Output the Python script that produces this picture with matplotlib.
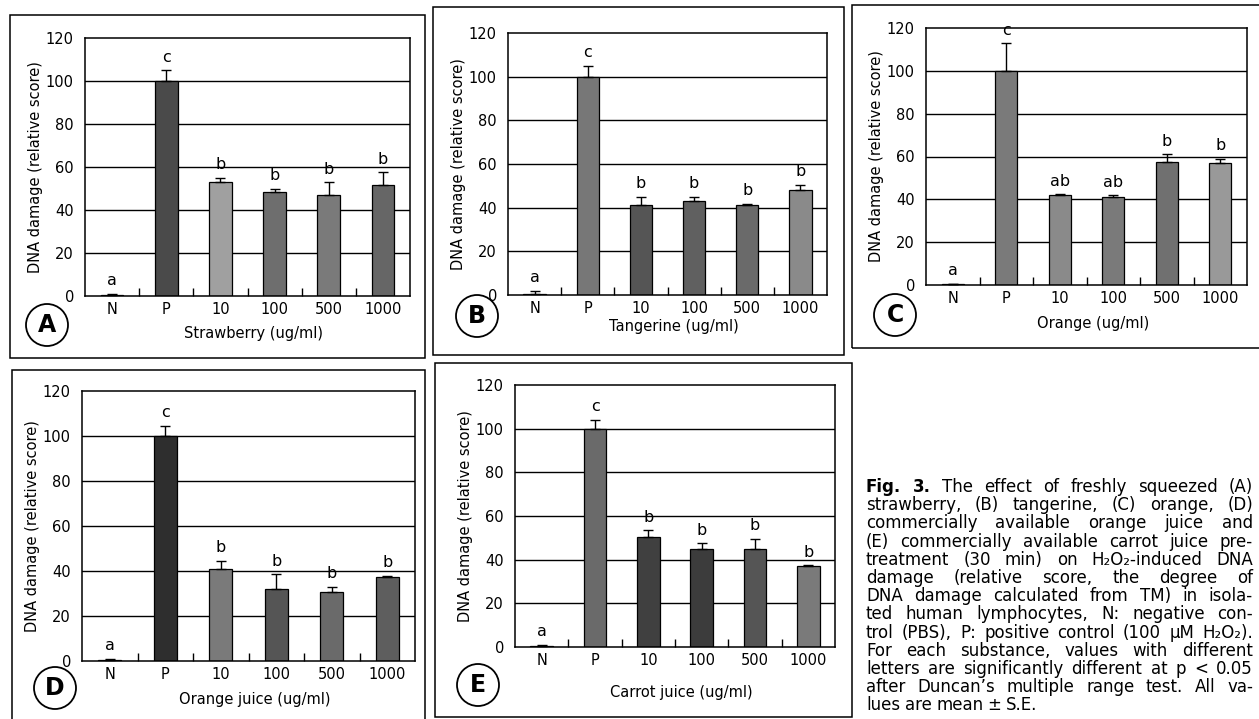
import numpy as np
import matplotlib
matplotlib.use("Agg")
import matplotlib.pyplot as plt
from matplotlib.patches import Rectangle, Ellipse

plt.rcParams['font.family'] = ['DejaVu Sans']

# treatment groups shared by all five panels
groups = ['N', 'P', '10', '100', '500', '1000']

# DNA damage (relative score), mean and S.E.
strawberry = [0.5, 100, 53, 48.5, 47, 51.5]
strawberry_se = [0.5, 5, 2, 1.5, 6, 6]
strawberry_sig = ['a', 'c', 'b', 'b', 'b', 'b']

tangerine = [0.5, 100, 41, 43, 41, 48]
tangerine_se = [1.5, 5, 4, 2, 0.7, 2.5]
tangerine_sig = ['a', 'c', 'b', 'b', 'b', 'b']

orange = [0.3, 100, 42, 41, 57.5, 57]
orange_se = [0.3, 13, 0.3, 1, 3.5, 2]
orange_sig = ['a', 'c', 'ab', 'ab', 'b', 'b']

orange_juice = [0.5, 100, 41, 32, 30.5, 37.5]
orange_juice_se = [0.5, 4.5, 3.5, 6.5, 2.5, 0.5]
orange_juice_sig = ['a', 'c', 'b', 'b', 'b', 'b']

carrot = [0.5, 100, 50.5, 45, 45, 37]
carrot_se = [0.5, 4, 3, 2.5, 4.5, 0.5]
carrot_sig = ['a', 'c', 'b', 'b', 'b', 'b']

caption = [
    "Fig. 3. The effect of freshly squeezed (A)",
    "strawberry, (B) tangerine, (C) orange, (D)",
    "commercially available orange juice and",
    "(E) commercially available carrot juice pre-",
    "treatment (30 min) on H\u2082O\u2082-induced DNA",
    "damage (relative score, the degree of",
    "DNA damage calculated from TM) in isola-",
    "ted human lymphocytes, N: negative con-",
    "trol (PBS), P: positive control (100 \u03bcM H\u2082O\u2082).",
    "For each substance, values with different",
    "letters are significantly different at p < 0.05",
    "after Duncan\u2019s multiple range test. All va-",
    "lues are mean \u00b1 S.E.",
]

W, H = 1259, 719
fig = plt.figure(figsize=(W / 100, H / 100), dpi=100)
fig.patch.set_facecolor('white')


def fx(x):
    return x / W


def fy(y):
    return 1 - y / H


# panel layout in pixels: outer box, axes box, label offsets, circle centre
panels = [
    dict(letter='A', title='Strawberry (ug/ml)', vals=strawberry, se=strawberry_se,
         sig=strawberry_sig, box=(10, 15, 425, 358), ax=(85, 38, 410, 296),
         xlab=30, circ=(47, 325),
         colors=['#555555', '#4a4a4a', '#a0a0a0', '#6e6e6e', '#7a7a7a', '#666666']),
    dict(letter='B', title='Tangerine (ug/ml)', vals=tangerine, se=tangerine_se,
         sig=tangerine_sig, box=(433, 7, 844, 355), ax=(508, 33, 827, 295),
         xlab=24, circ=(477, 316),
         colors=['#555555', '#777777', '#555555', '#606060', '#6a6a6a', '#8a8a8a']),
    dict(letter='C', title='Orange (ug/ml)', vals=orange, se=orange_se,
         sig=orange_sig, box=(852, 5, 1262, 348), ax=(926, 28, 1247, 285),
         xlab=31, circ=(895, 315),
         colors=['#555555', '#7a7a7a', '#8a8a8a', '#7a7a7a', '#707070', '#999999']),
    dict(letter='D', title='Orange juice (ug/ml)', vals=orange_juice, se=orange_juice_se,
         sig=orange_juice_sig, box=(12, 370, 425, 722), ax=(82, 391, 415, 661),
         xlab=31, circ=(55, 688),
         colors=['#555555', '#2e2e2e', '#7a7a7a', '#555555', '#6a6a6a', '#5e5e5e']),
    dict(letter='E', title='Carrot juice (ug/ml)', vals=carrot, se=carrot_se,
         sig=carrot_sig, box=(435, 363, 852, 717), ax=(515, 385, 835, 647),
         xlab=38, circ=(478, 685),
         colors=['#555555', '#6a6a6a', '#404040', '#3c3c3c', '#555555', '#7a7a7a']),
]

x = np.arange(len(groups))

for p in panels:
    # frame around the panel
    bx0, by0, bx1, by1 = p['box']
    fig.add_artist(Rectangle((fx(bx0), fy(by1)), fx(bx1 - bx0), (by1 - by0) / H,
                             transform=fig.transFigure, fill=False,
                             ec='black', lw=1.1))

    l, t, r, b = p['ax']
    ax = fig.add_axes([fx(l), fy(b), fx(r - l), (b - t) / H])
    ax.set_xlim(-0.5, len(groups) - 0.5)
    ax.set_ylim(0, 120)
    ax.set_yticks(np.arange(0, 121, 20))
    for yv in range(20, 120, 20):
        ax.axhline(yv, color='black', lw=1.0, zorder=1)

    ax.bar(x, p['vals'], width=0.42, color=p['colors'], edgecolor='black',
           linewidth=0.9, zorder=2)
    ax.errorbar(x, p['vals'], yerr=[np.zeros(len(x)), p['se']], fmt='none',
                ecolor='black', elinewidth=1.0, capsize=3.5, capthick=1.0, zorder=3)
    for xi, v, e, s in zip(x, p['vals'], p['se'], p['sig']):
        ax.text(xi, v + e + 2.5, s, ha='center', va='bottom', fontsize=11.5)

    ax.set_xticks(x)
    ax.set_xticklabels(groups, fontsize=10.5)
    ax.set_xticks(np.arange(0.5, len(groups) - 1, 1), minor=True)
    ax.tick_params(axis='x', which='major', length=0, pad=4)
    ax.tick_params(axis='x', which='minor', direction='in', length=6, width=1.0)
    ax.tick_params(axis='y', length=0, pad=8, labelsize=10.5)
    for sp in ax.spines.values():
        sp.set_linewidth(1.1)

    ax.set_ylabel('DNA damage (relative score)', fontsize=10.5)
    ax.yaxis.set_label_coords(-42 / (r - l), 0.5)
    ax.set_xlabel(p['title'], fontsize=10.5)
    ax.xaxis.set_label_coords(0.52, -p['xlab'] / (b - t))

    # circled panel letter
    cx, cy = p['circ']
    rad = 21
    fig.add_artist(Ellipse((fx(cx), fy(cy)), 2 * rad / W, 2 * rad / H,
                           transform=fig.transFigure, fill=False, ec='black', lw=1.3))
    fig.text(fx(cx), fy(cy), p['letter'], ha='center', va='center',
             fontsize=17, fontweight='bold')

# figure caption, justified word by word inside the right column
cap_x, cap_right, cap_y, step = 866, 1253, 487, 18.2
renderer = fig.canvas.get_renderer()
for i, line in enumerate(caption):
    words = line.split()
    ypos = fy(cap_y + i * step)
    items = []
    for j, w in enumerate(words):
        bold = (i == 0 and j < 2)
        t = fig.text(0, ypos, w, ha='left', va='center', fontsize=12,
                     fontweight='bold' if bold else 'normal')
        items.append((t, t.get_window_extent(renderer).width))
    total = sum(wd for _, wd in items)
    natural = 4.5
    if i < len(caption) - 1 and len(items) > 1:
        gap = max(natural, (cap_right - cap_x - total) / (len(items) - 1))
    else:
        gap = natural
    xpos = cap_x
    for t, wd in items:
        t.set_x(fx(xpos))
        xpos += wd + gap

fig.savefig('out.png', dpi=100)
